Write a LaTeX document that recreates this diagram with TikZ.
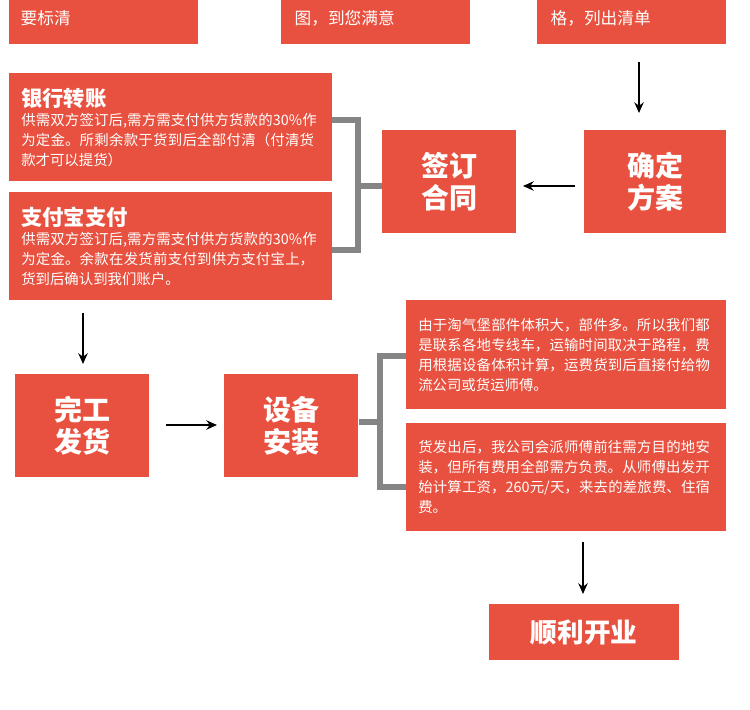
\documentclass[tikz,border=0pt]{standalone}
\usepackage{fontspec}
\setmainfont{Noto Sans CJK SC}
\XeTeXlinebreaklocale "zh"
\XeTeXlinebreakskip=0pt plus 1pt
\usetikzlibrary{positioning, arrows.meta}
\definecolor{boxred}{HTML}{E8513F}
\definecolor{brgray}{HTML}{858585}

\begin{document}
\begin{tikzpicture}[x=0.75pt, y=-0.75pt,
  box/.style={fill=boxred, draw=none, anchor=north west, inner sep=0pt},
  big/.style={box, text=white, font=\bfseries\fontsize{21}{24}\selectfont, align=center},
  note/.style={box, text=white, font=\fontsize{10.8}{15}\selectfont, align=left, inner xsep=9pt},
  arr/.style={-{Stealth[length=8pt, width=7pt]}, line width=1.8pt},
  bracket/.style={draw=brgray, line width=4pt}]
  \useasboundingbox (0,0) rectangle (750,710);

  % top row, cut off
  \node[box, minimum width=189*0.75pt, minimum height=44*0.75pt] (t1) at (9,0) {};
  \node[box, minimum width=189*0.75pt, minimum height=44*0.75pt] (t2) at (281,0) {};
  \node[box, minimum width=189*0.75pt, minimum height=44*0.75pt] (t3) at (537,0) {};
  \node[text=white, font=\fontsize{12.5}{14}\selectfont, anchor=west] at (16,18) {要标清};
  \node[text=white, font=\fontsize{12.5}{14}\selectfont, anchor=west] at (290,18) {图，到您满意};
  \node[text=white, font=\fontsize{12.5}{14}\selectfont, anchor=west] at (546,18) {格，列出清单};

  % payment
  \node[note, text width=323*0.75pt-18pt, minimum height=108*0.75pt, inner xsep=9pt] (bank) at (9,73)
    {{\bfseries\fontsize{16}{22}\selectfont 银行转账}\\[-1pt]供需双方签订后,需方需支付供方货款的30\%作为定金。所剩余款于货到后全部付清（付清货款才可以提货）};
  \node[note, text width=323*0.75pt-18pt, minimum height=108*0.75pt, inner xsep=9pt] (ali) at (9,192)
    {{\bfseries\fontsize{16}{22}\selectfont 支付宝支付}\\[-1pt]供需双方签订后,需方需支付供方货款的30\%作为定金。余款在发货前支付到供方支付宝上，货到后确认到我们账户。};

  \node[big, minimum width=134*0.75pt, minimum height=103*0.75pt] (sign) at (382,130) {签订\\合同};
  \node[big, minimum width=142*0.75pt, minimum height=103*0.75pt] (plan) at (584,130) {确定\\方案};

  \node[big, minimum width=134*0.75pt, minimum height=103*0.75pt] (ship) at (15,374) {完工\\发货};
  \node[big, minimum width=134*0.75pt, minimum height=103*0.75pt] (inst) at (224,374) {设备\\安装};

  \node[note, text width=320*0.75pt-18pt, minimum height=109*0.75pt] (freight) at (406,300)
    {由于淘气堡部件体积大，部件多。所以我们都是联系各地专线车，运输时间取决于路程，费用根据设备体积计算，运费货到后直接付给物流公司或货运师傅。};
  \node[note, text width=320*0.75pt-18pt, minimum height=108*0.75pt] (fitter) at (406,423)
    {货发出后，我公司会派师傅前往需方目的地安装，但所有费用全部需方负责。从师傅出发开始计算工资，260元/天，来去的差旅费、住宿费。};

  \node[big, minimum width=190*0.75pt, minimum height=56*0.75pt, font=\bfseries\fontsize{20}{24}\selectfont] (open) at (489,604) {顺利开业};

  % brackets
  \draw[bracket] (332,120) -- (358,120) -- (358,250) -- (332,250);
  \draw[bracket] (358,186) -- (sign.west |- 0,186);
  \draw[bracket] (406,356) -- (380,356) -- (380,487) -- (406,487);
  \draw[bracket] (inst.east |- 0,422) -- (380,422);

  % arrows
  \coordinate (a1) at (639,62);   \coordinate (b1) at (639,113);
  \coordinate (a2) at (575,186);  \coordinate (b2) at (523,186);
  \coordinate (a3) at (83,313);   \coordinate (b3) at (83,364);
  \coordinate (a4) at (166,425);  \coordinate (b4) at (217,425);
  \coordinate (a5) at (583,542);  \coordinate (b5) at (583,594);
  \foreach \i in {1,...,5}
    \draw[arr] (a\i) -- (b\i);
\end{tikzpicture}
\end{document}
